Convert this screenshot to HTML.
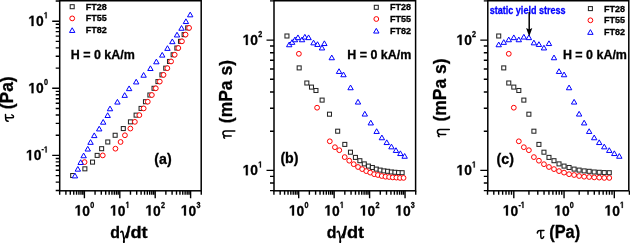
<!DOCTYPE html><html><head><meta charset="utf-8"><style>html,body{margin:0;padding:0;background:#fff;width:630px;height:243px;overflow:hidden}svg{display:block;will-change:transform}</style></head><body><svg width="630" height="243" viewBox="0 0 630 243">
<style>
text{font-family:"Liberation Sans",sans-serif;font-weight:bold;fill:#000;stroke:#000;stroke-width:0.3}
.syb{stroke:#00f}
.g1{fill:#000;stroke:#000;stroke-width:0.3;vector-effect:non-scaling-stroke}
.fr{fill:none;stroke:#000;stroke-width:1.5}
.tk{fill:none;stroke:#000;stroke-width:1.4}
.sq{fill:#fff;stroke:#262626;stroke-width:1.05}
.ci{fill:#fff;stroke:#f00;stroke-width:1.0}
.tr{fill:#fff;stroke:#00f;stroke-width:1.0;stroke-linejoin:miter}
</style>
<rect width="630" height="243" fill="#fff"/>
<g><rect x="70.67" y="173.53" width="4.0" height="4.0" class="sq"/><rect x="82.87" y="166.82" width="4.0" height="4.0" class="sq"/><rect x="90.52" y="160.11" width="4.0" height="4.0" class="sq"/><rect x="95.17" y="153.40" width="4.0" height="4.0" class="sq"/><rect x="99.63" y="146.69" width="4.0" height="4.0" class="sq"/><rect x="105.78" y="139.98" width="4.0" height="4.0" class="sq"/><rect x="113.15" y="133.27" width="4.0" height="4.0" class="sq"/><rect x="121.31" y="126.56" width="4.0" height="4.0" class="sq"/><rect x="128.44" y="119.85" width="4.0" height="4.0" class="sq"/><rect x="134.10" y="113.14" width="4.0" height="4.0" class="sq"/><rect x="139.05" y="106.43" width="4.0" height="4.0" class="sq"/><rect x="143.48" y="99.72" width="4.0" height="4.0" class="sq"/><rect x="147.89" y="93.01" width="4.0" height="4.0" class="sq"/><rect x="152.03" y="86.30" width="4.0" height="4.0" class="sq"/><rect x="155.95" y="79.59" width="4.0" height="4.0" class="sq"/><rect x="159.93" y="72.88" width="4.0" height="4.0" class="sq"/><rect x="163.74" y="66.17" width="4.0" height="4.0" class="sq"/><rect x="167.50" y="59.46" width="4.0" height="4.0" class="sq"/><rect x="171.14" y="52.75" width="4.0" height="4.0" class="sq"/><rect x="174.87" y="46.04" width="4.0" height="4.0" class="sq"/><rect x="178.50" y="39.33" width="4.0" height="4.0" class="sq"/><rect x="182.12" y="32.62" width="4.0" height="4.0" class="sq"/><rect x="185.68" y="25.91" width="4.0" height="4.0" class="sq"/><circle cx="84.58" cy="162.11" r="2.4" class="ci"/><circle cx="102.77" cy="155.40" r="2.4" class="ci"/><circle cx="115.43" cy="148.69" r="2.4" class="ci"/><circle cx="120.58" cy="141.98" r="2.4" class="ci"/><circle cx="124.93" cy="135.27" r="2.4" class="ci"/><circle cx="130.35" cy="128.56" r="2.4" class="ci"/><circle cx="134.86" cy="121.85" r="2.4" class="ci"/><circle cx="139.36" cy="115.14" r="2.4" class="ci"/><circle cx="143.66" cy="108.43" r="2.4" class="ci"/><circle cx="147.77" cy="101.72" r="2.4" class="ci"/><circle cx="151.85" cy="95.01" r="2.4" class="ci"/><circle cx="155.80" cy="88.30" r="2.4" class="ci"/><circle cx="159.77" cy="81.59" r="2.4" class="ci"/><circle cx="163.53" cy="74.88" r="2.4" class="ci"/><circle cx="167.34" cy="68.17" r="2.4" class="ci"/><circle cx="171.07" cy="61.46" r="2.4" class="ci"/><circle cx="174.69" cy="54.75" r="2.4" class="ci"/><circle cx="178.34" cy="48.04" r="2.4" class="ci"/><circle cx="181.94" cy="41.33" r="2.4" class="ci"/><circle cx="185.56" cy="34.62" r="2.4" class="ci"/><circle cx="189.10" cy="27.91" r="2.4" class="ci"/><path d="M74.95 173.18L77.65 177.88L72.25 177.88Z" class="tr"/><path d="M77.84 166.47L80.54 171.17L75.14 171.17Z" class="tr"/><path d="M80.67 159.76L83.37 164.46L77.97 164.46Z" class="tr"/><path d="M83.64 153.05L86.34 157.75L80.94 157.75Z" class="tr"/><path d="M87.75 146.34L90.45 151.04L85.05 151.04Z" class="tr"/><path d="M90.56 139.63L93.26 144.33L87.86 144.33Z" class="tr"/><path d="M94.26 132.92L96.96 137.62L91.56 137.62Z" class="tr"/><path d="M99.21 126.21L101.91 130.91L96.51 130.91Z" class="tr"/><path d="M103.19 119.50L105.89 124.20L100.49 124.20Z" class="tr"/><path d="M107.68 112.79L110.38 117.49L104.98 117.49Z" class="tr"/><path d="M110.02 106.08L112.72 110.78L107.32 110.78Z" class="tr"/><path d="M117.42 99.37L120.12 104.07L114.72 104.07Z" class="tr"/><path d="M124.68 92.66L127.38 97.36L121.98 97.36Z" class="tr"/><path d="M129.12 85.95L131.82 90.65L126.42 90.65Z" class="tr"/><path d="M136.19 79.24L138.89 83.94L133.49 83.94Z" class="tr"/><path d="M143.62 72.53L146.32 77.23L140.92 77.23Z" class="tr"/><path d="M150.42 65.82L153.12 70.52L147.72 70.52Z" class="tr"/><path d="M156.37 59.11L159.07 63.81L153.67 63.81Z" class="tr"/><path d="M162.22 52.40L164.92 57.10L159.52 57.10Z" class="tr"/><path d="M167.47 45.69L170.17 50.39L164.77 50.39Z" class="tr"/><path d="M172.32 38.98L175.02 43.68L169.62 43.68Z" class="tr"/><path d="M177.03 32.27L179.73 36.97L174.33 36.97Z" class="tr"/><path d="M181.54 25.56L184.24 30.26L178.84 30.26Z" class="tr"/><path d="M185.93 18.85L188.63 23.55L183.23 23.55Z" class="tr"/><path d="M190.20 12.14L192.90 16.84L187.50 16.84Z" class="tr"/></g>
<g><rect x="284.95" y="34.00" width="4.0" height="4.0" class="sq"/><rect x="297.17" y="65.90" width="4.0" height="4.0" class="sq"/><rect x="304.83" y="81.00" width="4.0" height="4.0" class="sq"/><rect x="309.49" y="85.10" width="4.0" height="4.0" class="sq"/><rect x="313.96" y="88.50" width="4.0" height="4.0" class="sq"/><rect x="320.11" y="98.10" width="4.0" height="4.0" class="sq"/><rect x="327.49" y="112.20" width="4.0" height="4.0" class="sq"/><rect x="335.67" y="129.20" width="4.0" height="4.0" class="sq"/><rect x="342.80" y="142.40" width="4.0" height="4.0" class="sq"/><rect x="348.47" y="150.20" width="4.0" height="4.0" class="sq"/><rect x="353.43" y="155.40" width="4.0" height="4.0" class="sq"/><rect x="357.87" y="158.70" width="4.0" height="4.0" class="sq"/><rect x="362.29" y="161.90" width="4.0" height="4.0" class="sq"/><rect x="366.43" y="164.10" width="4.0" height="4.0" class="sq"/><rect x="370.36" y="165.50" width="4.0" height="4.0" class="sq"/><rect x="374.34" y="167.10" width="4.0" height="4.0" class="sq"/><rect x="378.15" y="168.10" width="4.0" height="4.0" class="sq"/><rect x="381.92" y="168.90" width="4.0" height="4.0" class="sq"/><rect x="385.57" y="169.30" width="4.0" height="4.0" class="sq"/><rect x="389.31" y="170.00" width="4.0" height="4.0" class="sq"/><rect x="392.93" y="170.30" width="4.0" height="4.0" class="sq"/><rect x="396.56" y="170.60" width="4.0" height="4.0" class="sq"/><rect x="400.13" y="170.70" width="4.0" height="4.0" class="sq"/><circle cx="298.88" cy="53.80" r="2.4" class="ci"/><circle cx="317.09" cy="107.70" r="2.4" class="ci"/><circle cx="329.78" cy="141.30" r="2.4" class="ci"/><circle cx="334.93" cy="147.20" r="2.4" class="ci"/><circle cx="339.29" cy="150.20" r="2.4" class="ci"/><circle cx="344.71" cy="157.10" r="2.4" class="ci"/><circle cx="349.24" cy="160.70" r="2.4" class="ci"/><circle cx="353.73" cy="164.20" r="2.4" class="ci"/><circle cx="358.04" cy="167.00" r="2.4" class="ci"/><circle cx="362.16" cy="169.10" r="2.4" class="ci"/><circle cx="366.25" cy="171.10" r="2.4" class="ci"/><circle cx="370.20" cy="172.60" r="2.4" class="ci"/><circle cx="374.18" cy="174.20" r="2.4" class="ci"/><circle cx="377.94" cy="175.00" r="2.4" class="ci"/><circle cx="381.76" cy="176.00" r="2.4" class="ci"/><circle cx="385.49" cy="176.70" r="2.4" class="ci"/><circle cx="389.12" cy="177.00" r="2.4" class="ci"/><circle cx="392.77" cy="177.40" r="2.4" class="ci"/><circle cx="396.37" cy="177.60" r="2.4" class="ci"/><circle cx="400.00" cy="177.90" r="2.4" class="ci"/><circle cx="403.55" cy="177.90" r="2.4" class="ci"/><path d="M289.23 42.05L291.93 46.75L286.53 46.75Z" class="tr"/><path d="M292.13 39.65L294.83 44.35L289.43 44.35Z" class="tr"/><path d="M294.96 37.05L297.66 41.75L292.26 41.75Z" class="tr"/><path d="M297.94 34.95L300.64 39.65L295.24 39.65Z" class="tr"/><path d="M302.05 37.05L304.75 41.75L299.35 41.75Z" class="tr"/><path d="M304.86 34.35L307.56 39.05L302.16 39.05Z" class="tr"/><path d="M308.57 34.95L311.27 39.65L305.87 39.65Z" class="tr"/><path d="M313.53 40.15L316.23 44.85L310.83 44.85Z" class="tr"/><path d="M317.51 41.75L320.21 46.45L314.81 46.45Z" class="tr"/><path d="M322.01 45.25L324.71 49.95L319.31 49.95Z" class="tr"/><path d="M324.36 40.85L327.06 45.55L321.66 45.55Z" class="tr"/><path d="M331.77 55.05L334.47 59.75L329.07 59.75Z" class="tr"/><path d="M339.04 68.75L341.74 73.45L336.34 73.45Z" class="tr"/><path d="M343.48 72.05L346.18 76.75L340.78 76.75Z" class="tr"/><path d="M350.56 85.05L353.26 89.75L347.86 89.75Z" class="tr"/><path d="M358.00 99.35L360.70 104.05L355.30 104.05Z" class="tr"/><path d="M364.81 111.35L367.51 116.05L362.11 116.05Z" class="tr"/><path d="M370.78 120.25L373.48 124.95L368.08 124.95Z" class="tr"/><path d="M376.63 128.75L379.33 133.45L373.93 133.45Z" class="tr"/><path d="M381.89 135.05L384.59 139.75L379.19 139.75Z" class="tr"/><path d="M386.74 139.85L389.44 144.55L384.04 144.55Z" class="tr"/><path d="M391.46 144.15L394.16 148.85L388.76 148.85Z" class="tr"/><path d="M395.98 147.75L398.68 152.45L393.28 152.45Z" class="tr"/><path d="M400.37 150.85L403.07 155.55L397.67 155.55Z" class="tr"/><path d="M404.65 153.55L407.35 158.25L401.95 158.25Z" class="tr"/></g>
<g><rect x="496.72" y="34.00" width="4.0" height="4.0" class="sq"/><rect x="501.75" y="65.90" width="4.0" height="4.0" class="sq"/><rect x="506.77" y="81.00" width="4.0" height="4.0" class="sq"/><rect x="511.80" y="85.10" width="4.0" height="4.0" class="sq"/><rect x="516.82" y="88.50" width="4.0" height="4.0" class="sq"/><rect x="521.85" y="98.10" width="4.0" height="4.0" class="sq"/><rect x="526.88" y="112.20" width="4.0" height="4.0" class="sq"/><rect x="531.90" y="129.20" width="4.0" height="4.0" class="sq"/><rect x="536.92" y="142.40" width="4.0" height="4.0" class="sq"/><rect x="541.95" y="150.20" width="4.0" height="4.0" class="sq"/><rect x="546.97" y="155.40" width="4.0" height="4.0" class="sq"/><rect x="552.00" y="158.70" width="4.0" height="4.0" class="sq"/><rect x="557.02" y="161.90" width="4.0" height="4.0" class="sq"/><rect x="562.05" y="164.10" width="4.0" height="4.0" class="sq"/><rect x="567.07" y="165.50" width="4.0" height="4.0" class="sq"/><rect x="572.10" y="167.10" width="4.0" height="4.0" class="sq"/><rect x="577.12" y="168.10" width="4.0" height="4.0" class="sq"/><rect x="582.15" y="168.90" width="4.0" height="4.0" class="sq"/><rect x="587.17" y="169.30" width="4.0" height="4.0" class="sq"/><rect x="592.20" y="170.00" width="4.0" height="4.0" class="sq"/><rect x="597.22" y="170.30" width="4.0" height="4.0" class="sq"/><rect x="602.25" y="170.60" width="4.0" height="4.0" class="sq"/><rect x="607.27" y="170.70" width="4.0" height="4.0" class="sq"/><circle cx="508.77" cy="53.80" r="2.4" class="ci"/><circle cx="513.80" cy="107.70" r="2.4" class="ci"/><circle cx="518.82" cy="141.30" r="2.4" class="ci"/><circle cx="523.85" cy="147.20" r="2.4" class="ci"/><circle cx="528.88" cy="150.20" r="2.4" class="ci"/><circle cx="533.90" cy="157.10" r="2.4" class="ci"/><circle cx="538.92" cy="160.70" r="2.4" class="ci"/><circle cx="543.95" cy="164.20" r="2.4" class="ci"/><circle cx="548.97" cy="167.00" r="2.4" class="ci"/><circle cx="554.00" cy="169.10" r="2.4" class="ci"/><circle cx="559.02" cy="171.10" r="2.4" class="ci"/><circle cx="564.05" cy="172.60" r="2.4" class="ci"/><circle cx="569.07" cy="174.20" r="2.4" class="ci"/><circle cx="574.10" cy="175.00" r="2.4" class="ci"/><circle cx="579.12" cy="176.00" r="2.4" class="ci"/><circle cx="584.15" cy="176.70" r="2.4" class="ci"/><circle cx="589.17" cy="177.00" r="2.4" class="ci"/><circle cx="594.20" cy="177.40" r="2.4" class="ci"/><circle cx="599.22" cy="177.60" r="2.4" class="ci"/><circle cx="604.25" cy="177.90" r="2.4" class="ci"/><circle cx="609.27" cy="177.90" r="2.4" class="ci"/><path d="M498.72 42.05L501.42 46.75L496.02 46.75Z" class="tr"/><path d="M503.75 39.65L506.45 44.35L501.05 44.35Z" class="tr"/><path d="M508.77 37.05L511.47 41.75L506.07 41.75Z" class="tr"/><path d="M513.80 34.95L516.50 39.65L511.10 39.65Z" class="tr"/><path d="M518.82 37.05L521.52 41.75L516.12 41.75Z" class="tr"/><path d="M523.85 34.35L526.55 39.05L521.15 39.05Z" class="tr"/><path d="M528.88 34.95L531.58 39.65L526.17 39.65Z" class="tr"/><path d="M533.90 40.15L536.60 44.85L531.20 44.85Z" class="tr"/><path d="M538.92 41.75L541.62 46.45L536.22 46.45Z" class="tr"/><path d="M543.95 45.25L546.65 49.95L541.25 49.95Z" class="tr"/><path d="M548.97 40.85L551.67 45.55L546.27 45.55Z" class="tr"/><path d="M554.00 55.05L556.70 59.75L551.30 59.75Z" class="tr"/><path d="M559.02 68.75L561.73 73.45L556.32 73.45Z" class="tr"/><path d="M564.05 72.05L566.75 76.75L561.35 76.75Z" class="tr"/><path d="M569.07 85.05L571.77 89.75L566.37 89.75Z" class="tr"/><path d="M574.10 99.35L576.80 104.05L571.40 104.05Z" class="tr"/><path d="M579.12 111.35L581.83 116.05L576.42 116.05Z" class="tr"/><path d="M584.15 120.25L586.85 124.95L581.45 124.95Z" class="tr"/><path d="M589.17 128.75L591.88 133.45L586.47 133.45Z" class="tr"/><path d="M594.20 135.05L596.90 139.75L591.50 139.75Z" class="tr"/><path d="M599.22 139.85L601.92 144.55L596.52 144.55Z" class="tr"/><path d="M604.25 144.15L606.95 148.85L601.55 148.85Z" class="tr"/><path d="M609.27 147.75L611.98 152.45L606.57 152.45Z" class="tr"/><path d="M614.30 150.85L617.00 155.55L611.60 155.55Z" class="tr"/><path d="M619.32 153.55L622.02 158.25L616.62 158.25Z" class="tr"/></g>
<path class="tk" d="M59.66 190.80v4.0M65.89 190.80v4.0M70.31 190.80v4.0M73.74 190.80v4.0M76.55 190.80v4.0M78.92 190.80v4.0M80.97 190.80v4.0M82.78 190.80v4.0M84.40 190.80v7.5M95.06 190.80v4.0M101.29 190.80v4.0M105.71 190.80v4.0M109.14 190.80v4.0M111.95 190.80v4.0M114.32 190.80v4.0M116.37 190.80v4.0M118.18 190.80v4.0M119.80 190.80v7.5M130.46 190.80v4.0M136.69 190.80v4.0M141.11 190.80v4.0M144.54 190.80v4.0M147.35 190.80v4.0M149.72 190.80v4.0M151.77 190.80v4.0M153.58 190.80v4.0M155.20 190.80v7.5M165.86 190.80v4.0M172.09 190.80v4.0M176.51 190.80v4.0M179.94 190.80v4.0M182.75 190.80v4.0M185.12 190.80v4.0M187.17 190.80v4.0M188.98 190.80v4.0M190.60 190.80v7.5M201.26 190.80v4.0M59.70 190.49h-4.0M59.70 182.10h-4.0M59.70 175.60h-4.0M59.70 170.29h-4.0M59.70 165.79h-4.0M59.70 161.90h-4.0M59.70 158.47h-4.0M59.70 155.40h-7.5M59.70 135.20h-4.0M59.70 123.39h-4.0M59.70 115.00h-4.0M59.70 108.50h-4.0M59.70 103.19h-4.0M59.70 98.69h-4.0M59.70 94.80h-4.0M59.70 91.37h-4.0M59.70 88.30h-7.5M59.70 68.10h-4.0M59.70 56.29h-4.0M59.70 47.90h-4.0M59.70 41.40h-4.0M59.70 36.09h-4.0M59.70 31.59h-4.0M59.70 27.70h-4.0M59.70 24.27h-4.0M59.70 21.20h-7.5M59.70 1.00h-4.0M273.92 190.80v4.0M280.16 190.80v4.0M284.59 190.80v4.0M288.03 190.80v4.0M290.84 190.80v4.0M293.21 190.80v4.0M295.26 190.80v4.0M297.08 190.80v4.0M298.70 190.80v7.5M309.37 190.80v4.0M315.61 190.80v4.0M320.04 190.80v4.0M323.48 190.80v4.0M326.29 190.80v4.0M328.66 190.80v4.0M330.71 190.80v4.0M332.53 190.80v4.0M334.15 190.80v7.5M344.82 190.80v4.0M351.06 190.80v4.0M355.49 190.80v4.0M358.93 190.80v4.0M361.74 190.80v4.0M364.11 190.80v4.0M366.16 190.80v4.0M367.98 190.80v4.0M369.60 190.80v7.5M380.27 190.80v4.0M386.51 190.80v4.0M390.94 190.80v4.0M394.38 190.80v4.0M397.19 190.80v4.0M399.56 190.80v4.0M401.61 190.80v4.0M403.43 190.80v4.0M405.05 190.80v7.5M415.72 190.80v4.0M274.00 190.58h-4.0M274.00 183.03h-4.0M274.00 176.36h-4.0M274.00 170.40h-7.5M274.00 131.18h-4.0M274.00 108.23h-4.0M274.00 91.95h-4.0M274.00 79.32h-4.0M274.00 69.01h-4.0M274.00 60.28h-4.0M274.00 52.73h-4.0M274.00 46.06h-4.0M274.00 40.10h-7.5M274.00 0.88h-4.0M487.53 190.80v4.0M493.80 190.80v4.0M498.67 190.80v4.0M502.65 190.80v4.0M506.02 190.80v4.0M508.93 190.80v4.0M511.50 190.80v4.0M513.80 190.80v7.5M528.93 190.80v4.0M537.78 190.80v4.0M544.05 190.80v4.0M548.92 190.80v4.0M552.90 190.80v4.0M556.27 190.80v4.0M559.18 190.80v4.0M561.75 190.80v4.0M564.05 190.80v7.5M579.18 190.80v4.0M588.03 190.80v4.0M594.30 190.80v4.0M599.17 190.80v4.0M603.15 190.80v4.0M606.52 190.80v4.0M609.43 190.80v4.0M612.00 190.80v4.0M614.30 190.80v7.5M629.43 190.80v4.0M487.80 190.58h-4.0M487.80 183.03h-4.0M487.80 176.36h-4.0M487.80 170.40h-7.5M487.80 131.18h-4.0M487.80 108.23h-4.0M487.80 91.95h-4.0M487.80 79.32h-4.0M487.80 69.01h-4.0M487.80 60.28h-4.0M487.80 52.73h-4.0M487.80 46.06h-4.0M487.80 40.10h-7.5M487.80 0.88h-4.0"/>
<rect x="59.7" y="0.75" width="141.50" height="190.05" class="fr"/>
<rect x="274.0" y="0.75" width="141.60" height="190.05" class="fr"/>
<rect x="487.8" y="0.75" width="141.00" height="190.05" class="fr"/>
<path transform="translate(74.60 215.50) scale(0.006753 -0.007246)" d="M478,0L478,1170L140,959L140,1180L493,1409L759,1409L759,0Z" class="g1"/><text transform="translate(82.30 215.50) scale(0.9320 1)" font-size="14.84">0</text><text transform="translate(90.18 207.90) scale(0.8200 1)" font-size="8.8">0</text>
<path transform="translate(288.90 215.50) scale(0.006753 -0.007246)" d="M478,0L478,1170L140,959L140,1180L493,1409L759,1409L759,0Z" class="g1"/><text transform="translate(296.60 215.50) scale(0.9320 1)" font-size="14.84">0</text><text transform="translate(304.48 207.90) scale(0.8200 1)" font-size="8.8">0</text>
<path transform="translate(110.00 215.50) scale(0.006753 -0.007246)" d="M478,0L478,1170L140,959L140,1180L493,1409L759,1409L759,0Z" class="g1"/><text transform="translate(117.70 215.50) scale(0.9320 1)" font-size="14.84">0</text><path transform="translate(125.58 207.90) scale(0.003523 -0.004297)" d="M478,0L478,1170L140,959L140,1180L493,1409L759,1409L759,0Z" class="g1"/>
<path transform="translate(324.35 215.50) scale(0.006753 -0.007246)" d="M478,0L478,1170L140,959L140,1180L493,1409L759,1409L759,0Z" class="g1"/><text transform="translate(332.05 215.50) scale(0.9320 1)" font-size="14.84">0</text><path transform="translate(339.93 207.90) scale(0.003523 -0.004297)" d="M478,0L478,1170L140,959L140,1180L493,1409L759,1409L759,0Z" class="g1"/>
<path transform="translate(145.40 215.50) scale(0.006753 -0.007246)" d="M478,0L478,1170L140,959L140,1180L493,1409L759,1409L759,0Z" class="g1"/><text transform="translate(153.10 215.50) scale(0.9320 1)" font-size="14.84">0</text><text transform="translate(160.98 207.90) scale(0.8200 1)" font-size="8.8">2</text>
<path transform="translate(359.80 215.50) scale(0.006753 -0.007246)" d="M478,0L478,1170L140,959L140,1180L493,1409L759,1409L759,0Z" class="g1"/><text transform="translate(367.50 215.50) scale(0.9320 1)" font-size="14.84">0</text><text transform="translate(375.38 207.90) scale(0.8200 1)" font-size="8.8">2</text>
<path transform="translate(180.80 215.50) scale(0.006753 -0.007246)" d="M478,0L478,1170L140,959L140,1180L493,1409L759,1409L759,0Z" class="g1"/><text transform="translate(188.50 215.50) scale(0.9320 1)" font-size="14.84">0</text><text transform="translate(196.38 207.90) scale(0.8200 1)" font-size="8.8">3</text>
<path transform="translate(395.25 215.50) scale(0.006753 -0.007246)" d="M478,0L478,1170L140,959L140,1180L493,1409L759,1409L759,0Z" class="g1"/><text transform="translate(402.95 215.50) scale(0.9320 1)" font-size="14.84">0</text><text transform="translate(410.83 207.90) scale(0.8200 1)" font-size="8.8">3</text>
<path transform="translate(502.80 215.50) scale(0.006753 -0.007246)" d="M478,0L478,1170L140,959L140,1180L493,1409L759,1409L759,0Z" class="g1"/><text transform="translate(510.49 215.50) scale(0.9320 1)" font-size="14.84">0</text><text transform="translate(518.38 207.90) scale(0.8200 1)" font-size="8.8">-</text><path transform="translate(520.79 207.90) scale(0.003523 -0.004297)" d="M478,0L478,1170L140,959L140,1180L493,1409L759,1409L759,0Z" class="g1"/>
<path transform="translate(554.25 215.50) scale(0.006753 -0.007246)" d="M478,0L478,1170L140,959L140,1180L493,1409L759,1409L759,0Z" class="g1"/><text transform="translate(561.95 215.50) scale(0.9320 1)" font-size="14.84">0</text><text transform="translate(569.83 207.90) scale(0.8200 1)" font-size="8.8">0</text>
<path transform="translate(604.50 215.50) scale(0.006753 -0.007246)" d="M478,0L478,1170L140,959L140,1180L493,1409L759,1409L759,0Z" class="g1"/><text transform="translate(612.20 215.50) scale(0.9320 1)" font-size="14.84">0</text><path transform="translate(620.08 207.90) scale(0.003523 -0.004297)" d="M478,0L478,1170L140,959L140,1180L493,1409L759,1409L759,0Z" class="g1"/>
<path transform="translate(25.95 160.25) scale(0.006753 -0.007246)" d="M478,0L478,1170L140,959L140,1180L493,1409L759,1409L759,0Z" class="g1"/><text transform="translate(33.64 160.25) scale(0.9320 1)" font-size="14.84">0</text><text transform="translate(41.52 152.45) scale(0.8200 1)" font-size="8.8">-</text><path transform="translate(43.93 152.45) scale(0.003523 -0.004297)" d="M478,0L478,1170L140,959L140,1180L493,1409L759,1409L759,0Z" class="g1"/>
<path transform="translate(28.35 93.15) scale(0.006753 -0.007246)" d="M478,0L478,1170L140,959L140,1180L493,1409L759,1409L759,0Z" class="g1"/><text transform="translate(36.04 93.15) scale(0.9320 1)" font-size="14.84">0</text><text transform="translate(43.93 85.35) scale(0.8200 1)" font-size="8.8">0</text>
<path transform="translate(28.35 26.05) scale(0.006753 -0.007246)" d="M478,0L478,1170L140,959L140,1180L493,1409L759,1409L759,0Z" class="g1"/><text transform="translate(36.04 26.05) scale(0.9320 1)" font-size="14.84">0</text><path transform="translate(43.93 18.25) scale(0.003523 -0.004297)" d="M478,0L478,1170L140,959L140,1180L493,1409L759,1409L759,0Z" class="g1"/>
<path transform="translate(242.65 175.25) scale(0.006753 -0.007246)" d="M478,0L478,1170L140,959L140,1180L493,1409L759,1409L759,0Z" class="g1"/><text transform="translate(250.34 175.25) scale(0.9320 1)" font-size="14.84">0</text><path transform="translate(258.23 167.45) scale(0.003523 -0.004297)" d="M478,0L478,1170L140,959L140,1180L493,1409L759,1409L759,0Z" class="g1"/>
<path transform="translate(456.45 175.25) scale(0.006753 -0.007246)" d="M478,0L478,1170L140,959L140,1180L493,1409L759,1409L759,0Z" class="g1"/><text transform="translate(464.14 175.25) scale(0.9320 1)" font-size="14.84">0</text><path transform="translate(472.03 167.45) scale(0.003523 -0.004297)" d="M478,0L478,1170L140,959L140,1180L493,1409L759,1409L759,0Z" class="g1"/>
<path transform="translate(242.65 44.95) scale(0.006753 -0.007246)" d="M478,0L478,1170L140,959L140,1180L493,1409L759,1409L759,0Z" class="g1"/><text transform="translate(250.34 44.95) scale(0.9320 1)" font-size="14.84">0</text><text transform="translate(258.23 37.15) scale(0.8200 1)" font-size="8.8">2</text>
<path transform="translate(456.45 44.95) scale(0.006753 -0.007246)" d="M478,0L478,1170L140,959L140,1180L493,1409L759,1409L759,0Z" class="g1"/><text transform="translate(464.14 44.95) scale(0.9320 1)" font-size="14.84">0</text><text transform="translate(472.03 37.15) scale(0.8200 1)" font-size="8.8">2</text>
<rect x="70.20" y="4.70" width="4.0" height="4.0" class="sq"/><circle cx="72.20" cy="18.40" r="2.4" class="ci"/><path d="M72.20 27.75L74.90 32.45L69.50 32.45Z" class="tr"/><text transform="translate(85.70 9.70)" font-size="9.0">FT28</text><text transform="translate(85.70 21.40)" font-size="9.0">FT55</text><text transform="translate(85.70 33.10)" font-size="9.0">FT82</text>
<rect x="374.30" y="5.30" width="4.0" height="4.0" class="sq"/><circle cx="376.30" cy="19.00" r="2.4" class="ci"/><path d="M376.30 28.35L379.00 33.05L373.60 33.05Z" class="tr"/><text transform="translate(389.90 10.40)" font-size="9.0">FT28</text><text transform="translate(389.90 22.10)" font-size="9.0">FT55</text><text transform="translate(389.90 33.80)" font-size="9.0">FT82</text>
<rect x="588.40" y="6.60" width="4.0" height="4.0" class="sq"/><circle cx="590.40" cy="20.30" r="2.4" class="ci"/><path d="M590.40 29.65L593.10 34.35L587.70 34.35Z" class="tr"/><text transform="translate(603.90 11.60)" font-size="9.0">FT28</text><text transform="translate(603.90 23.30)" font-size="9.0">FT55</text><text transform="translate(603.90 35.00)" font-size="9.0">FT82</text>
<text transform="translate(70.75 59.28) scale(1.0050 1)" font-size="12.4">H = 0 kA/m</text>
<text transform="translate(347.20 58.62) scale(1.0050 1)" font-size="12.4">H = 0 kA/m</text>
<text transform="translate(562.90 58.53) scale(1.0050 1)" font-size="12.4">H = 0 kA/m</text>
<text transform="translate(154.30 163.70) scale(0.9700 1)" font-size="14.63">(a)</text>
<text transform="translate(280.40 162.60) scale(0.9700 1)" font-size="14.63">(b)</text>
<text transform="translate(496.60 163.80) scale(0.9700 1)" font-size="14.63">(c)</text>
<text transform="translate(489.77 13.90) scale(0.9040 1)" font-size="10.0" style="fill:#00f" class="syb">static yield stress</text>
<path d="M529.2 12.0V30" stroke="#000" stroke-width="1.5" fill="none"/>
<path d="M526.1 28.0L529.2 29.4L532.3 28.0L529.2 36.4Z" fill="#000"/>
<text transform="translate(110.15 238.43) scale(0.9550 1)" font-size="16.7">d</text>
<path transform="translate(120.30 238.60)" d="M0.5,-6.5C1.1,-7.4 2.0,-7.5 2.5,-6.3L3.7,0.6" fill="none" stroke="#000" stroke-width="1.6" stroke-linecap="round" stroke-linejoin="round"/><path transform="translate(120.30 238.60)" d="M7.8,-7.4L3.7,0.6M3.7,0.6C3.1,2.2 3.0,4.1 3.6,4.2C4.2,4.2 4.2,2.2 3.7,0.6" fill="none" stroke="#000" stroke-width="1.15" stroke-linecap="round" stroke-linejoin="round"/>
<text transform="translate(125.38 238.32) scale(1.1000 1)" font-size="16.58">/dt</text>
<text transform="translate(326.70 238.43) scale(0.9550 1)" font-size="16.7">d</text>
<path transform="translate(336.60 238.60)" d="M0.5,-6.5C1.1,-7.4 2.0,-7.5 2.5,-6.3L3.7,0.6" fill="none" stroke="#000" stroke-width="1.6" stroke-linecap="round" stroke-linejoin="round"/><path transform="translate(336.60 238.60)" d="M7.8,-7.4L3.7,0.6M3.7,0.6C3.1,2.2 3.0,4.1 3.6,4.2C4.2,4.2 4.2,2.2 3.7,0.6" fill="none" stroke="#000" stroke-width="1.15" stroke-linecap="round" stroke-linejoin="round"/>
<text transform="translate(341.88 238.18) scale(1.1000 1)" font-size="16.58">/dt</text>
<path transform="translate(537.00 238.00)" d="M0.3,-5.0C0.6,-6.6 1.4,-7.4 2.6,-7.4L7.0,-7.6M3.8,-7.4L3.8,-1.4C3.8,0.2 4.4,0.45 4.9,0.45C5.8,0.45 6.4,-0.6 6.7,-1.3" fill="none" stroke="#000" stroke-width="1.5" stroke-linecap="round" stroke-linejoin="round"/>
<text transform="translate(549.27 238.25) scale(0.9280 1)" font-size="17.63">(Pa)</text>
<text transform="translate(12.90 109.35) rotate(-90) scale(0.9350 1)" font-size="18.7">(Pa)</text>
<path transform="translate(13.10 121.60) rotate(-90)" d="M0.3,-5.0C0.6,-6.6 1.4,-7.4 2.6,-7.4L7.0,-7.6M3.8,-7.4L3.8,-1.4C3.8,0.2 4.4,0.45 4.9,0.45C5.8,0.45 6.4,-0.6 6.7,-1.3" fill="none" stroke="#000" stroke-width="1.5" stroke-linecap="round" stroke-linejoin="round"/>
<text transform="translate(231.60 123.15) rotate(-90) scale(0.9350 1)" font-size="18.7">(mPa s)</text>
<path transform="translate(231.20 138.50) rotate(-90)" d="M0.3,-6.6C0.9,-7.6 2.0,-7.8 2.6,-6.8L2.6,0M2.6,-5.6C3.0,-7.6 4.2,-8.3 5.3,-8.3C6.8,-8.3 7.6,-7.4 7.6,-5.8L7.6,3.6" fill="none" stroke="#000" stroke-width="1.5" stroke-linecap="round" stroke-linejoin="round"/>
<text transform="translate(446.00 121.50) rotate(-90) scale(0.9350 1)" font-size="18.7">(mPa s)</text>
<path transform="translate(445.70 137.00) rotate(-90)" d="M0.3,-6.6C0.9,-7.6 2.0,-7.8 2.6,-6.8L2.6,0M2.6,-5.6C3.0,-7.6 4.2,-8.3 5.3,-8.3C6.8,-8.3 7.6,-7.4 7.6,-5.8L7.6,3.6" fill="none" stroke="#000" stroke-width="1.5" stroke-linecap="round" stroke-linejoin="round"/>
</svg></body></html>
